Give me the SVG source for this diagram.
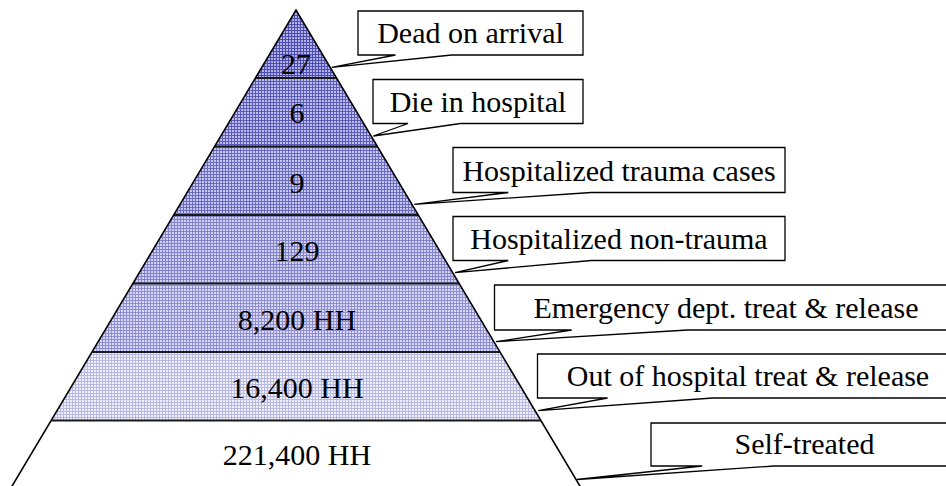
<svg xmlns="http://www.w3.org/2000/svg" width="946" height="486" viewBox="0 0 946 486">
<style>
  .lbl { font-family: "Liberation Serif", "Times New Roman", serif; font-size: 30px; fill: #000; text-anchor: middle; }
  .box { fill: #fff; stroke: #000; stroke-width: 1.3; stroke-linejoin: miter; }
  .sep { stroke: #1a1a1a; stroke-width: 2; fill: none; }
  .edge { stroke: #000; stroke-width: 1.6; fill: none; stroke-linejoin: miter; }
</style>
<defs>
  <pattern id="p1" patternUnits="userSpaceOnUse" width="3" height="3">
    <rect width="3" height="3" fill="#b0b0ea"/>
    <rect width="1" height="3" fill="#4c4cac"/>
    <rect width="3" height="1" fill="#4c4cac"/>
  </pattern>
  <pattern id="p2" patternUnits="userSpaceOnUse" width="3" height="3">
    <rect width="3" height="3" fill="#bcbcee"/>
    <rect width="1" height="3" fill="#5c5cb6"/>
    <rect width="3" height="1" fill="#5c5cb6"/>
  </pattern>
  <pattern id="p3" patternUnits="userSpaceOnUse" width="3" height="3">
    <rect width="3" height="3" fill="#c6c6f2"/>
    <rect width="1" height="3" fill="#6c6cbe"/>
    <rect width="3" height="1" fill="#6c6cbe"/>
  </pattern>
  <pattern id="p4" patternUnits="userSpaceOnUse" width="3" height="3">
    <rect width="3" height="3" fill="#d0d0f4"/>
    <rect width="1" height="3" fill="#8282ca"/>
    <rect width="3" height="1" fill="#8282ca"/>
  </pattern>
  <pattern id="p5" patternUnits="userSpaceOnUse" width="3" height="3">
    <rect width="3" height="3" fill="#d8d8f6"/>
    <rect width="1" height="3" fill="#8e8ed0"/>
    <rect width="3" height="1" fill="#8e8ed0"/>
  </pattern>
  <pattern id="p6" patternUnits="userSpaceOnUse" width="3" height="3">
    <rect width="3" height="3" fill="#f0f0fc"/>
    <rect width="1" height="3" fill="#b8b8e4"/>
    <rect width="3" height="1" fill="#b8b8e4"/>
  </pattern>
</defs>
<rect width="946" height="486" fill="#fff"/>

<g id="pyramid">
  <g id="layer-27">
    <polygon points="296,10 336.6,78 255.4,78" fill="url(#p1)"/>
    <text class="lbl" x="296" y="74">27</text>
  </g>
  <g id="layer-6">
    <polygon points="255.4,78 336.6,78 377.4,146.5 214.6,146.5" fill="url(#p2)"/>
    <text class="lbl" x="297" y="123">6</text>
  </g>
  <g id="layer-9">
    <polygon points="214.6,146.5 377.4,146.5 418.3,215 173.7,215" fill="url(#p3)"/>
    <text class="lbl" x="297" y="193">9</text>
  </g>
  <g id="layer-129">
    <polygon points="173.7,215 418.3,215 459.1,283.5 132.9,283.5" fill="url(#p4)"/>
    <text class="lbl" x="297" y="261">129</text>
  </g>
  <g id="layer-8200">
    <polygon points="132.9,283.5 459.1,283.5 500,352 92,352" fill="url(#p5)"/>
    <text class="lbl" x="297" y="329.5">8,200 HH</text>
  </g>
  <g id="layer-16400">
    <polygon points="92,352 500,352 540.9,420.5 51.1,420.5" fill="url(#p6)"/>
    <text class="lbl" x="297" y="398">16,400 HH</text>
  </g>
  <g id="layer-221400">
    <polygon points="51.1,420.5 540.9,420.5 582.3,490 9.7,490" fill="#fff"/>
    <text class="lbl" x="297" y="465">221,400 HH</text>
  </g>
  <line class="sep" x1="255.4" y1="78" x2="336.6" y2="78"/>
  <line class="sep" x1="214.6" y1="146.5" x2="377.4" y2="146.5"/>
  <line class="sep" x1="173.7" y1="215" x2="418.3" y2="215"/>
  <line class="sep" x1="132.9" y1="283.5" x2="459.1" y2="283.5"/>
  <line class="sep" x1="92" y1="352" x2="500" y2="352"/>
  <line class="sep" x1="51.1" y1="420.5" x2="540.9" y2="420.5" stroke="#333" stroke-width="2.5"/>
  <polyline class="edge" points="9.7,490 296,10 582.3,490"/>
</g>

<g id="connectors">
  <g id="callout-dead-on-arrival">
    <path class="box" d="M358,11 H583 V55 H451.8 L331.7,67.3 L395.5,55 H358 Z"/>
    <text class="lbl" x="470.5" y="43.3">Dead on arrival</text>
  </g>
  <g id="callout-die-in-hospital">
    <path class="box" d="M373,79.5 H583 V123.5 H460.5 L373.3,136 L408,123.5 H373 Z"/>
    <text class="lbl" x="478" y="111.5">Die in hospital</text>
  </g>
  <g id="callout-hosp-trauma">
    <path class="box" d="M453,147.5 H785 V192.5 H591.3 L414.3,204.3 L508.3,192.5 H453 Z"/>
    <text class="lbl" x="619" y="180.5">Hospitalized trauma cases</text>
  </g>
  <g id="callout-hosp-non-trauma">
    <path class="box" d="M453,216.5 H785 V260.5 H591.3 L455,272.7 L508.3,260.5 H453 Z"/>
    <text class="lbl" x="619" y="248.5">Hospitalized non-trauma</text>
  </g>
  <g id="callout-emergency">
    <path class="box" d="M494.5,285 H958 V330 H687.6 L496,341.7 L571.7,330 H494.5 Z"/>
    <text class="lbl" x="726" y="318">Emergency dept. treat &amp; release</text>
  </g>
  <g id="callout-out-of-hospital">
    <path class="box" d="M537.5,354 H958 V398 H712.7 L538.3,410.7 L607.6,398 H537.5 Z"/>
    <text class="lbl" x="748" y="386">Out of hospital treat &amp; release</text>
  </g>
  <g id="callout-self-treated">
    <path class="box" d="M651,423 H958 V466 H774 L577,479.5 L702.2,466 H651 Z"/>
    <text class="lbl" x="804.5" y="454.3">Self-treated</text>
  </g>
</g>
</svg>
